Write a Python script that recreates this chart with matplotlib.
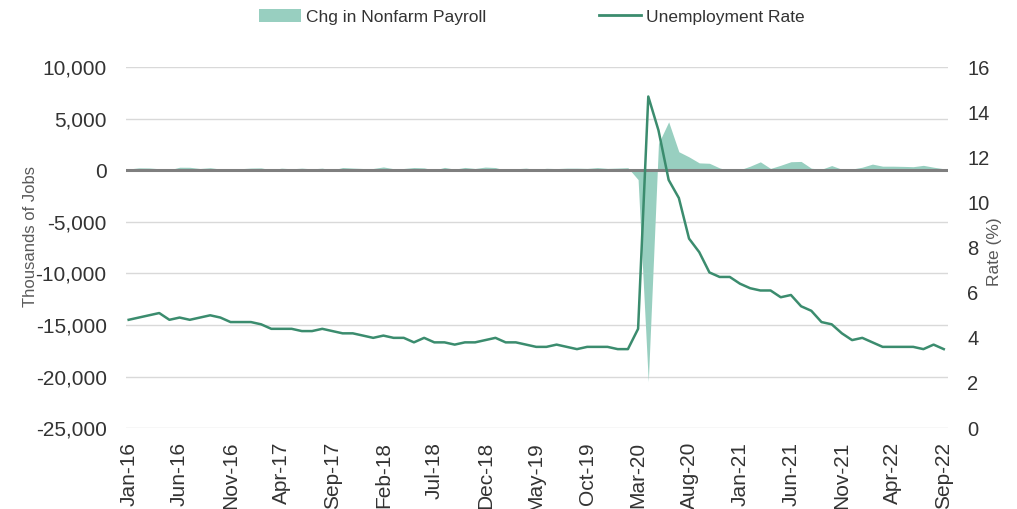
import numpy as np
import pandas as pd
import matplotlib
matplotlib.use("Agg")
import matplotlib.pyplot as plt
from matplotlib.patches import Patch
from matplotlib.lines import Line2D

plt.rcParams['font.family'] = ['Liberation Sans', 'DejaVu Sans']

# Monthly data, Jan 2016 - Sep 2022
months = pd.date_range("2016-01-01", "2022-09-01", freq="MS")
month_labels = [d.strftime("%b-%y") for d in months]

# Monthly change in nonfarm payrolls (thousands)
payroll_chg = [
    126, 237, 225, 153, 43, 297, 291, 176, 249, 124, 164, 155,
    216, 232, 50, 207, 145, 210, 138, 208, 18, 271, 216, 175,
    176, 324, 155, 175, 270, 235, 19, 282, 108, 277, 176, 312,
    268, 1, 147, 210, 85, 193, 166, 207, 208, 185, 261, 184,
    214, 251, -900, -20500, 2600, 4700, 1800, 1300, 720, 680, 230, -50,
    50, 400, 820, 180, 490, 830, 860, 200, 100, 460, 100, 120,
    300, 600, 400, 400, 380, 350, 480, 300, 150,
]

# Unemployment rate (%)
unemp_rate = [
    4.8, 4.9, 5.0, 5.1, 4.8, 4.9, 4.8, 4.9, 5.0, 4.9, 4.7, 4.7,
    4.7, 4.6, 4.4, 4.4, 4.4, 4.3, 4.3, 4.4, 4.3, 4.2, 4.2, 4.1,
    4.0, 4.1, 4.0, 4.0, 3.8, 4.0, 3.8, 3.8, 3.7, 3.8, 3.8, 3.9,
    4.0, 3.8, 3.8, 3.7, 3.6, 3.6, 3.7, 3.6, 3.5, 3.6, 3.6, 3.6,
    3.5, 3.5, 4.4, 14.7, 13.2, 11.0, 10.2, 8.4, 7.8, 6.9, 6.7, 6.7,
    6.4, 6.2, 6.1, 6.1, 5.8, 5.9, 5.4, 5.2, 4.7, 4.6, 4.2, 3.9,
    4.0, 3.8, 3.6, 3.6, 3.6, 3.6, 3.5, 3.7, 3.5,
]

fill_color = "#98cfc0"
line_color = "#3b8c6e"
text_color = "#333333"

x = np.arange(len(months))

fig = plt.figure(figsize=(10.17, 5.09), dpi=100)
ax = fig.add_axes([0.124, 0.159, 0.808, 0.709])
ax2 = ax.twinx()

# payroll area on the left axis
ax.fill_between(x, 0, payroll_chg, color=fill_color, linewidth=0, zorder=2)
ax.axhline(0, color="#7f7f7f", linewidth=2.2, zorder=3)
ax.set_ylim(-25000, 10000)
ax.set_yticks(np.arange(-25000, 10001, 5000))
ax.yaxis.set_major_formatter(matplotlib.ticker.FuncFormatter(lambda v, p: f"{v:,.0f}"))
ax.grid(axis="y", color="#d9d9d9", linewidth=1, zorder=0)
ax.set_axisbelow(True)

ax.set_xlim(-0.25, 80.4)
ax.set_xticks(x[::5])
ax.set_xticklabels(month_labels[::5], rotation=90)

# unemployment rate on the right axis
ax2.plot(x, unemp_rate, color=line_color, linewidth=1.8, zorder=4)
ax2.set_ylim(0, 16)
ax2.set_yticks(np.arange(0, 17, 2))

for a in (ax, ax2):
    for s in a.spines.values():
        s.set_visible(False)
    a.tick_params(length=0, labelsize=15, labelcolor=text_color)
ax2.tick_params(axis="y", labelsize=14.5)
ax.tick_params(axis="y", pad=14)
ax.tick_params(axis="x", pad=10)
ax2.tick_params(axis="y", pad=14)

ax.set_ylabel("Thousands of Jobs", fontsize=12, color="#595959")
ax.yaxis.set_label_coords(-0.107, 0.53)
ax2.set_ylabel("Rate (%)", fontsize=12.5, color="#595959", rotation=90)
ax2.yaxis.set_label_coords(1.0474, 0.49)

handles = [
    Patch(facecolor=fill_color, edgecolor="none"),
    Line2D([], [], color=line_color, linewidth=2),
]
fig.legend(handles, ["Chg in Nonfarm Payroll", "Unemployment Rate"],
           loc="center", bbox_to_anchor=(0.523, 0.967), ncol=2, frameon=False,
           fontsize=12.5, handlelength=2.4, handleheight=0.8,
           handletextpad=0.3, columnspacing=6.5, labelcolor=text_color)

fig.savefig("out.png", dpi=100)
